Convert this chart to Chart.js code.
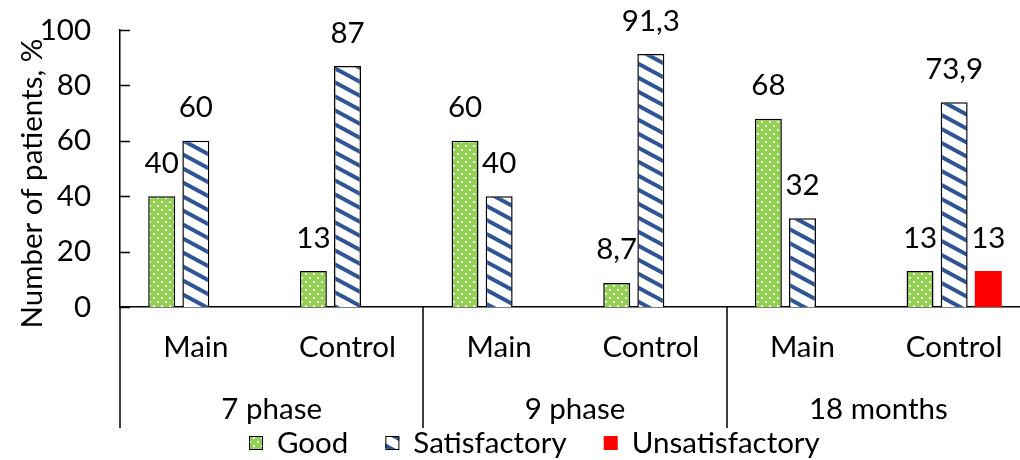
<!DOCTYPE html>
<html>
<head>
<meta charset="utf-8">
<script src="https://cdn.jsdelivr.net/npm/chart.js@4.4.0/dist/chart.umd.min.js"></script>
<style>
html, body { margin: 0; padding: 0; overflow: hidden; background: #fff; }
#wrap { width: 1020px; height: 460px; overflow: hidden; }
canvas { display: block; }
</style>
</head>
<body>
<div id="wrap"><canvas id="mycanvas" width="1030" height="460"></canvas></div>
<script>
// data
var categories = ['Main', 'Control', 'Main', 'Control', 'Main', 'Control'];
var groups = ['7 phase', '9 phase', '18 months'];
var good = [40, 13, 60, 8.7, 68, 13];
var satisfactory = [60, 87, 40, 91.3, 32, 73.9];
var unsatisfactory = [null, null, null, null, null, 13];
var yTicks = [0, 20, 40, 60, 80, 100];

var FONT = 'Lato';
var FSIZE = 29.5;

var canvas = document.getElementById('mycanvas');
var ctx = canvas.getContext('2d');

// green with white dots
function dotPattern() {
    var c = document.createElement('canvas');
    c.width = 8; c.height = 8;
    var g = c.getContext('2d');
    g.fillStyle = '#92D050';
    g.fillRect(0, 0, 8, 8);
    g.fillStyle = '#ffffff';
    g.fillRect(1, 1, 2, 2);
    g.fillRect(5, 5, 2, 2);
    return ctx.createPattern(c, 'repeat');
}

// white with dark blue downward stripes
function stripePattern() {
    var w = 26, h = 14;
    var c = document.createElement('canvas');
    c.width = w; c.height = h;
    var g = c.getContext('2d');
    g.fillStyle = '#ffffff';
    g.fillRect(0, 0, w, h);
    g.strokeStyle = '#2F5597';
    g.lineWidth = 4;
    for (var k = -1; k <= 1; k++) {
        g.beginPath();
        g.moveTo(-w, -h + k * h);
        g.lineTo(2 * w, 2 * h + k * h);
        g.stroke();
    }
    return ctx.createPattern(c, 'repeat');
}

var extras = {
    id: 'extras',
    afterDatasetsDraw: function(chart) {
        var c = chart.ctx;
        var area = chart.chartArea;
        var y = chart.scales.y;
        var x2 = chart.scales.x2;
        c.save();
        // inward tick marks
        c.strokeStyle = '#000';
        c.lineWidth = 1.5;
        yTicks.forEach(function(v) {
            var py = Math.round(y.getPixelForValue(v)) + 0.5;
            c.beginPath();
            c.moveTo(area.left, py);
            c.lineTo(area.left + 10, py);
            c.stroke();
        });
        // group separators
        var step = area.width / groups.length;
        for (var i = 0; i < groups.length; i++) {
            var px = Math.round(x2.left + i * step);
            c.beginPath();
            c.moveTo(px, area.bottom);
            c.lineTo(px, 428);
            c.stroke();
        }
        // value labels
        c.fillStyle = '#000';
        c.font = FSIZE + 'px ' + FONT;
        c.textAlign = 'center';
        c.textBaseline = 'middle';
        chart.data.datasets.forEach(function(ds, di) {
            var meta = chart.getDatasetMeta(di);
            meta.data.forEach(function(bar, j) {
                var v = ds.data[j];
                if (v === null) return;
                c.fillText(String(v).replace('.', ','), bar.x, bar.y - 33);
            });
        });
        // legend
        var lx = 249, ly = 443;
        chart.data.datasets.forEach(function(ds) {
            c.fillStyle = ds.backgroundColor;
            c.fillRect(lx, ly - 7, 14, 14);
            if (ds.borderWidth) {
                c.strokeStyle = '#000';
                c.lineWidth = 1;
                c.strokeRect(lx + 0.5, ly - 6.5, 13, 13);
            }
            c.fillStyle = '#000';
            c.textAlign = 'left';
            c.fillText(ds.label, lx + 28, ly);
            lx += 28 + c.measureText(ds.label).width + 37;
        });
        c.restore();
    }
};

var chartdata = {
    labels: categories,
    datasets: [
        {
            label: 'Good',
            data: good,
            backgroundColor: dotPattern(),
            borderColor: '#000',
            borderWidth: 1.5
        },
        {
            label: 'Satisfactory',
            data: satisfactory,
            backgroundColor: stripePattern(),
            borderColor: '#000',
            borderWidth: 1.5
        },
        {
            label: 'Unsatisfactory',
            data: unsatisfactory,
            backgroundColor: '#FF0000',
            borderWidth: 0
        }
    ]
};

var barGraph = new Chart(ctx, {
    type: 'bar',
    data: chartdata,
    plugins: [extras],
    options: {
        responsive: false,
        animation: false,
        events: [],
        categoryPercentage: 0.675,
        barPercentage: 0.79,
        layout: { padding: { top: 30, bottom: 32, left: 0, right: 0 } },
        plugins: {
            legend: { display: false },
            tooltip: { enabled: false }
        },
        scales: {
            y: {
                min: 0,
                max: 100,
                afterBuildTicks: function(s) {
                    s.ticks = yTicks.map(function(v) { return { value: v }; });
                },
                afterFit: function(s) { s.width = 120; },
                ticks: { font: { family: FONT, size: FSIZE }, color: '#000', padding: 3 },
                grid: { display: false, drawTicks: true, tickLength: 26 },
                border: { display: true, color: '#000', width: 1.5 },
                title: {
                    display: true,
                    text: 'Number of patients, %    ',
                    font: { family: FONT, size: FSIZE },
                    color: '#000',
                    padding: { top: 15, bottom: 0 }
                }
            },
            x: {
                weight: 0,
                offset: true,
                afterFit: function(s) { s.height = 75; },
                ticks: { font: { family: FONT, size: FSIZE }, color: '#000', padding: 23, maxRotation: 0 },
                grid: { display: false, drawTicks: false, tickLength: 0 },
                border: { display: true, color: '#000', width: 1.5 }
            },
            x2: {
                type: 'category',
                labels: groups,
                position: 'bottom',
                weight: 1,
                offset: true,
                afterFit: function(s) { s.height = 46; },
                ticks: { font: { family: FONT, size: FSIZE }, color: '#000', padding: 10, maxRotation: 0 },
                grid: { display: false, drawTicks: false, tickLength: 0 },
                border: { display: false }
            }
        }
    }
});
</script>
</body>
</html>
